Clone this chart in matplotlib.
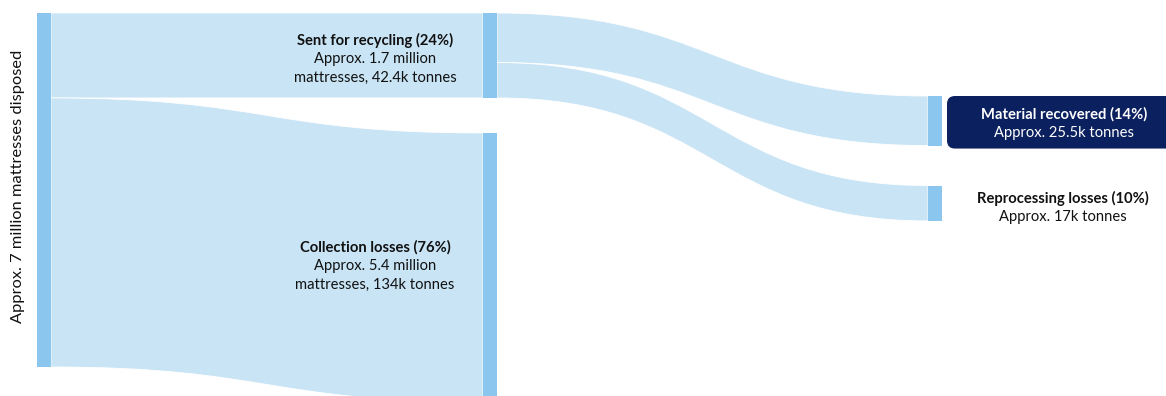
import matplotlib
matplotlib.use("Agg")
import matplotlib.pyplot as plt
from matplotlib.path import Path
from matplotlib.patches import PathPatch, Rectangle, FancyBboxPatch

# ---- data (percent of mattresses disposed) ----
source_label = "Approx. 7 million mattresses disposed"
stage1_names = ["Sent for recycling (24%)", "Collection losses (76%)"]
stage1_values = [24, 76]
stage1_details = [["Approx. 1.7 million", "mattresses, 42.4k tonnes"],
                  ["Approx. 5.4 million", "mattresses, 134k tonnes"]]
stage2_names = ["Material recovered (14%)", "Reprocessing losses (10%)"]
stage2_values = [14, 10]
stage2_details = [["Approx. 25.5k tonnes"], ["Approx. 17k tonnes"]]

# ---- style / layout ----
W, H = 1166, 396
LINK = "#c9e4f5"
NODE = "#8ac6ee"
NAVY = "#0b205e"
TXT = "#111111"
FONT = ["Lato", "DejaVu Sans"]
FS = 10.6
scale = 3.54          # pixels per percent
node_w = 14
col_x = [37, 483, 928]
top0 = 13
gap1 = 35
top2 = 96
gap2 = 40
line_h = 19

fig = plt.figure(figsize=(W / 100, H / 100), dpi=100)
ax = fig.add_axes([0, 0, 1, 1])
ax.set_xlim(0, W)
ax.set_ylim(H, 0)
ax.axis("off")


def band(x0, y0a, y0b, x1, y1a, y1b):
    xm = (x0 + x1) / 2
    verts = [(x0, y0a), (xm, y0a), (xm, y1a), (x1, y1a),
             (x1, y1b), (xm, y1b), (xm, y0b), (x0, y0b), (x0, y0a)]
    codes = [Path.MOVETO, Path.CURVE4, Path.CURVE4, Path.CURVE4,
             Path.LINETO, Path.CURVE4, Path.CURVE4, Path.CURVE4, Path.CLOSEPOLY]
    ax.add_patch(PathPatch(Path(verts, codes), facecolor=LINK,
                           edgecolor="white", linewidth=0.6, zorder=1))


def label(x, y, name, details, color):
    ax.text(x, y, name, ha="center", va="center", fontsize=FS,
            fontweight="bold", color=color, family=FONT, zorder=3)
    for i, d in enumerate(details):
        ax.text(x, y + line_h * (i + 1), d, ha="center", va="center",
                fontsize=FS, color=color, family=FONT, zorder=3)


# source node
total = sum(stage1_values)
src_top = top0
src_bot = top0 + total * scale

# stage 1 nodes
s1_tops = []
y = top0
for v in stage1_values:
    s1_tops.append(y)
    y += v * scale + gap1

# stage 2 nodes
s2_tops = []
y = top2
for v in stage2_values:
    s2_tops.append(y)
    y += v * scale + gap2

# links source -> stage1
y = src_top
for v, t in zip(stage1_values, s1_tops):
    band(col_x[0] + node_w, y, y + v * scale, col_x[1], t, t + v * scale)
    y += v * scale

# links recycling -> stage2
y = s1_tops[0]
for v, t in zip(stage2_values, s2_tops):
    band(col_x[1] + node_w, y, y + v * scale, col_x[2], t, t + v * scale)
    y += v * scale

# nodes
ax.add_patch(Rectangle((col_x[0], src_top), node_w, src_bot - src_top,
                       facecolor=NODE, edgecolor="none", zorder=2))
for v, t in zip(stage1_values, s1_tops):
    ax.add_patch(Rectangle((col_x[1], t), node_w, v * scale,
                           facecolor=NODE, edgecolor="none", zorder=2))
for v, t in zip(stage2_values, s2_tops):
    ax.add_patch(Rectangle((col_x[2], t), node_w, v * scale,
                           facecolor=NODE, edgecolor="none", zorder=2))

# source label
ax.text(18, 186, source_label, rotation=90,
        ha="center", va="center", fontsize=11.8, color=TXT, family=FONT)

# stage 1 labels
lab_x = 375
s1_label_y = [40, 247]
for name, det, ly in zip(stage1_names, stage1_details, s1_label_y):
    label(lab_x, ly, name, det, TXT)

# highlighted box for material recovered
box_top = s2_tops[0]
box_h = stage2_values[0] * scale + 3
ax.add_patch(FancyBboxPatch((947, box_top), 260, box_h,
                            boxstyle="round,pad=0,rounding_size=8",
                            facecolor=NAVY, edgecolor="none", zorder=2))

s2_label_x = [1064, 1063]
s2_label_y = [114, 198]
s2_colors = ["white", TXT]
for name, det, lx, ly, c in zip(stage2_names, stage2_details, s2_label_x, s2_label_y, s2_colors):
    label(lx, ly, name, det, c)

fig.savefig("out.png", dpi=100)
